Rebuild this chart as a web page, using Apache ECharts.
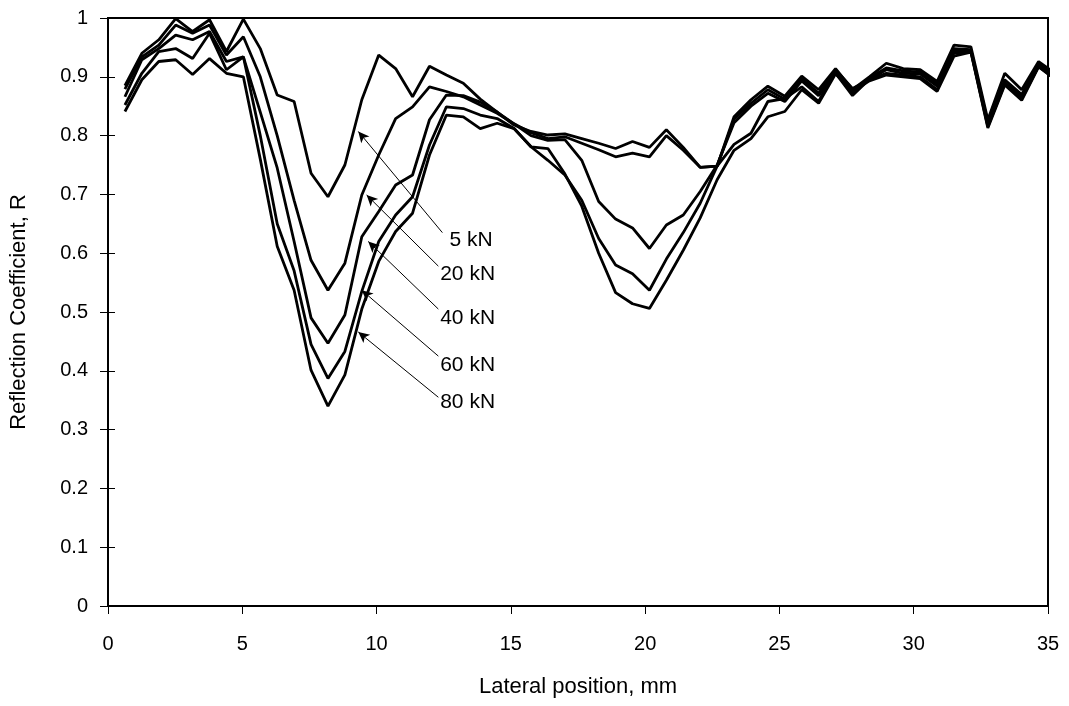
<!DOCTYPE html>
<html>
<head>
<meta charset="utf-8">
<script src="https://cdn.jsdelivr.net/npm/echarts@6/dist/echarts.min.js"></script>
<style>
  html, body { margin: 0; padding: 0; background: #fff; }
  #chart { width: 1069px; height: 706px; }
</style>
</head>
<body>
<div id="chart"></div>
<script>
// lateral positions, mm
const xs = [0.63, 1.26, 1.89, 2.52, 3.15, 3.78, 4.41, 5.04, 5.67, 6.30,
  6.93, 7.56, 8.19, 8.82, 9.45, 10.08, 10.71, 11.34, 11.97, 12.60,
  13.23, 13.86, 14.49, 15.12, 15.75, 16.38, 17.01, 17.64, 18.27, 18.90,
  19.53, 20.16, 20.79, 21.42, 22.05, 22.68, 23.31, 23.94, 24.57, 25.20,
  25.83, 26.46, 27.09, 27.72, 28.35, 28.98, 29.61, 30.24, 30.87, 31.50,
  32.13, 32.76, 33.39, 34.02, 34.65, 35.28]

// reflection coefficient for each load
const r5 = [0.885, 0.940, 0.963, 0.999, 0.977, 0.997, 0.943, 0.998, 0.948, 0.869,
  0.858, 0.736, 0.696, 0.750, 0.861, 0.937, 0.914, 0.866, 0.918, 0.903,
  0.889, 0.862, 0.840, 0.818, 0.807, 0.801, 0.803, 0.795, 0.787, 0.778,
  0.790, 0.780, 0.810, 0.780, 0.746, 0.748, 0.832, 0.861, 0.884, 0.867,
  0.901, 0.878, 0.914, 0.878, 0.900, 0.923, 0.914, 0.912, 0.892, 0.954,
  0.951, 0.827, 0.906, 0.878, 0.926, 0.905]
const r20 = [0.879, 0.934, 0.954, 0.988, 0.974, 0.988, 0.937, 0.968, 0.900, 0.800,
  0.690, 0.588, 0.537, 0.583, 0.699, 0.767, 0.829, 0.849, 0.883, 0.875,
  0.866, 0.852, 0.838, 0.820, 0.805, 0.795, 0.798, 0.787, 0.776, 0.764,
  0.770, 0.764, 0.800, 0.775, 0.746, 0.748, 0.828, 0.855, 0.878, 0.862,
  0.897, 0.872, 0.910, 0.872, 0.898, 0.915, 0.910, 0.908, 0.888, 0.948,
  0.946, 0.822, 0.895, 0.870, 0.922, 0.900]
const r40 = [0.866, 0.929, 0.948, 0.971, 0.963, 0.977, 0.926, 0.934, 0.840, 0.745,
  0.620, 0.490, 0.447, 0.495, 0.628, 0.671, 0.716, 0.733, 0.827, 0.869,
  0.868, 0.857, 0.840, 0.820, 0.800, 0.792, 0.793, 0.758, 0.688, 0.658,
  0.643, 0.608, 0.648, 0.665, 0.705, 0.750, 0.822, 0.850, 0.872, 0.858,
  0.893, 0.868, 0.906, 0.868, 0.896, 0.912, 0.906, 0.905, 0.884, 0.945,
  0.944, 0.818, 0.890, 0.866, 0.920, 0.900]
const r60 = [0.852, 0.906, 0.943, 0.948, 0.931, 0.974, 0.912, 0.934, 0.800, 0.650,
  0.570, 0.445, 0.387, 0.433, 0.535, 0.620, 0.665, 0.696, 0.784, 0.849,
  0.846, 0.835, 0.829, 0.812, 0.781, 0.758, 0.733, 0.690, 0.625, 0.580,
  0.565, 0.537, 0.590, 0.635, 0.685, 0.748, 0.785, 0.804, 0.858, 0.863,
  0.883, 0.858, 0.912, 0.880, 0.895, 0.906, 0.903, 0.900, 0.878, 0.940,
  0.943, 0.815, 0.888, 0.862, 0.918, 0.895]
const r80 = [0.841, 0.895, 0.926, 0.929, 0.904, 0.931, 0.906, 0.900, 0.760, 0.612,
  0.537, 0.401, 0.340, 0.393, 0.505, 0.586, 0.637, 0.668, 0.767, 0.835,
  0.832, 0.812, 0.821, 0.812, 0.781, 0.778, 0.735, 0.680, 0.600, 0.533,
  0.514, 0.506, 0.554, 0.605, 0.660, 0.725, 0.775, 0.795, 0.832, 0.841,
  0.878, 0.855, 0.905, 0.875, 0.893, 0.903, 0.900, 0.897, 0.875, 0.935,
  0.942, 0.813, 0.886, 0.860, 0.917, 0.895]

const loads = ['5 kN', '20 kN', '40 kN', '60 kN', '80 kN']
const values = [r5, r20, r40, r60, r80]

// annotation arrows (data coords): tail near the label, tip on the curve
const arrowTails = [[12.45, 0.635], [12.3, 0.578], [12.3, 0.505], [12.3, 0.425], [12.3, 0.355]]
const arrowTips = [[9.32, 0.807], [9.63, 0.699], [9.69, 0.620], [9.45, 0.537], [9.32, 0.466]]
const labelAt = [[12.7, 0.622], [12.35, 0.565], [12.35, 0.490], [12.35, 0.410], [12.35, 0.347]]

const font = '"Liberation Sans", Arial, Helvetica, sans-serif'

const chart = echarts.init(document.getElementById('chart'), null, { renderer: 'canvas' })

const baseX = {
  type: 'value', min: 0, max: 35, interval: 5,
  splitLine: { show: false },
}
const baseY = {
  type: 'value', min: 0, max: 1, interval: 0.1,
  splitLine: { show: false },
}

const series = values.map((v, i) => ({
  name: loads[i],
  type: 'line',
  symbol: 'none',
  clip: true,
  lineStyle: { color: '#000', width: 2.8 },
  data: xs.map((x, j) => [x, v[j]]),
}))

// arrows + labels on a series without own marks
series.push({
  type: 'line',
  data: [],
  markLine: {
    silent: true,
    symbol: ['none', 'arrow'],
    symbolSize: [8, 11],
    label: { show: false },
    lineStyle: { color: '#000', width: 1, type: 'solid' },
    data: arrowTails.map((t, i) => [{ coord: t }, { coord: arrowTips[i] }]),
  },
  markPoint: {
    silent: true,
    symbol: 'circle',
    symbolSize: 1,
    itemStyle: { color: 'rgba(0,0,0,0)' },
    label: {
      show: true, position: 'right', distance: 0,
      color: '#000', fontSize: 21, fontFamily: font,
      formatter: p => p.name,
    },
    data: labelAt.map((c, i) => ({ name: loads[i], coord: c })),
  },
})

chart.setOption({
  animation: false,
  backgroundColor: '#fff',
  grid: {
    left: 108, right: 21, top: 18, bottom: 100,
    show: true, borderColor: '#000', borderWidth: 2,
  },
  xAxis: [
    Object.assign({}, baseX, {
      name: 'Lateral position, mm',
      nameLocation: 'middle',
      nameGap: 70,
      nameTextStyle: { color: '#000', fontSize: 22, fontFamily: font },
      axisLine: { lineStyle: { color: '#000', width: 2 } },
      axisTick: { inside: false, length: 8, lineStyle: { color: '#000', width: 1 } },
      axisLabel: { color: '#000', fontSize: 20, fontFamily: font, margin: 28 },
    }),
    Object.assign({}, baseX, {
      axisLine: { show: false },
      axisTick: { inside: true, length: 8, lineStyle: { color: '#000', width: 1 } },
      axisLabel: { show: false },
    }),
  ],
  yAxis: [
    Object.assign({}, baseY, {
      name: 'Reflection Coefficient, R',
      nameLocation: 'middle',
      nameGap: 78,
      nameTextStyle: { color: '#000', fontSize: 22, fontFamily: font },
      axisLine: { lineStyle: { color: '#000', width: 2 } },
      axisTick: { inside: false, length: 8, lineStyle: { color: '#000', width: 1 } },
      axisLabel: { color: '#000', fontSize: 20, fontFamily: font, margin: 20 },
    }),
    Object.assign({}, baseY, {
      position: 'left',
      axisLine: { show: false },
      axisTick: { inside: true, length: 7, lineStyle: { color: '#000', width: 1 } },
      axisLabel: { show: false },
    }),
  ],
  series: series,
})
</script>
</body>
</html>
